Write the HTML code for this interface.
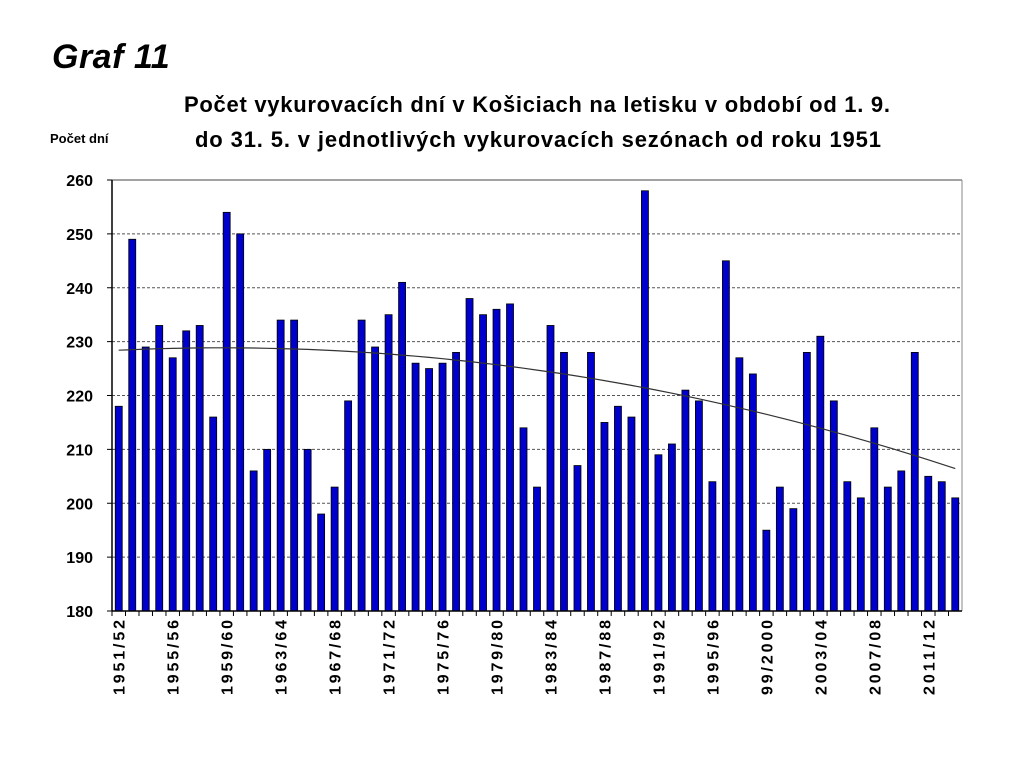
<!DOCTYPE html>
<html><head><meta charset="utf-8"><style>body{margin:0;background:#fff}svg{display:block}text{font-family:"Liberation Sans",sans-serif}</style></head><body>
<div id="c"></div>
<script>
var s='<svg width="1024" height="778" xmlns="http://www.w3.org/2000/svg">';
s+='<text x="52" y="68" font-size="34" font-weight="bold" font-style="italic" letter-spacing="0.5">Graf 11</text>';
s+='<text x="537" y="112" font-size="22" font-weight="bold" text-anchor="middle" textLength="706">Počet vykurovacích dní v Košiciach na letisku v období od 1. 9.</text>';
s+='<text x="538" y="147" font-size="22" font-weight="bold" text-anchor="middle" textLength="686">do 31. 5. v jednotlivých vykurovacích sezónach od roku 1951</text>';
s+='<text x="50" y="143" font-size="13" font-weight="bold">Počet dní</text>';
var L=112,R=962,T=180,B=611,ppu=(B-T)/80;
function Y(v){return B-(v-180)*ppu}
for(var v=180;v<=260;v+=10){var y=Y(v);
 if(v>180)s+='<line x1="'+L+'" x2="'+R+'" y1="'+y+'" y2="'+y+'" stroke="#555" stroke-dasharray="3,2" stroke-width="1"/>';
 s+='<text x="93" y="'+(y+6)+'" font-size="16" font-weight="bold" text-anchor="end">'+v+'</text>';
 s+='<line x1="'+(L-5)+'" x2="'+L+'" y1="'+y+'" y2="'+y+'" stroke="#000"/>';}
var d=[218,249,229,233,227,232,233,216,254,250,206,210,234,234,210,198,203,219,234,229,235,241,226,225,226,228,238,235,236,237,214,203,233,228,207,228,215,218,216,258,209,211,221,219,204,245,227,224,195,203,199,228,231,219,204,201,214,203,206,228,205,204,201];
var n=d.length,w=(R-L)/n;
var labs=['1951/52','1955/56','1959/60','1963/64','1967/68','1971/72','1975/76','1979/80','1983/84','1987/88','1991/92','1995/96','99/2000','2003/04','2007/08','2011/12'];
for(var i=0;i<n;i++){var cx=L+w*(i+0.5),y=Y(d[i]);
 s+='<rect x="'+(cx-3.5)+'" y="'+y+'" width="7" height="'+(B-y)+'" fill="#0000cc" stroke="#000" stroke-width="0.8"/>';
 s+='<line x1="'+(L+w*i)+'" x2="'+(L+w*i)+'" y1="'+B+'" y2="'+(B+5)+'" stroke="#000"/>';
 if(i%4==0)s+='<text transform="translate('+(cx+6)+',620) rotate(-90)" font-size="16" font-weight="bold" text-anchor="end" textLength="'+(labs[i/4].length==7?75:70)+'">'+labs[i/4]+'</text>';}
var p='';for(var t=0;t<n;t++){var vv=228.4+0.117*t-0.0076*t*t;p+=(t?'L':'M')+(L+w*(t+0.5)).toFixed(1)+','+Y(vv).toFixed(1);}
s+='<path d="'+p+'" fill="none" stroke="#333" stroke-width="1.2"/>';
s+='<line x1="'+L+'" x2="'+R+'" y1="'+T+'" y2="'+T+'" stroke="#444"/>';
s+='<line x1="'+R+'" x2="'+R+'" y1="'+T+'" y2="'+B+'" stroke="#888"/>';
s+='<line x1="'+L+'" x2="'+L+'" y1="'+T+'" y2="'+B+'" stroke="#000" stroke-width="1.5"/>';
s+='<line x1="'+L+'" x2="'+R+'" y1="'+B+'" y2="'+B+'" stroke="#000" stroke-width="1.5"/>';
s+='</svg>';
document.getElementById('c').innerHTML=s;
</script>
</body></html>
